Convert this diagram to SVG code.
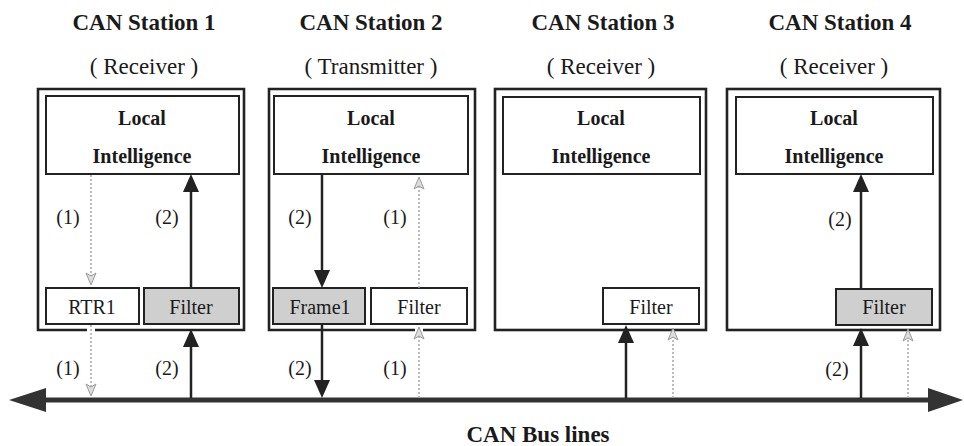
<svg xmlns="http://www.w3.org/2000/svg" width="964" height="446" viewBox="0 0 964 446" font-family="'Liberation Serif', Tinos, 'Times New Roman', Times, serif">
<style>
text{font-family:'Liberation Serif',Tinos,'Times New Roman',Times,serif;fill:#1a1a1a;text-anchor:middle}
.title{font-size:23px;font-weight:bold}
.sub{font-size:23px}
.bold{font-size:20px;font-weight:bold}
.lbl{font-size:20px}
.outer{fill:none;stroke:#222;stroke-width:2.6}
.box{fill:#fff;stroke:#222;stroke-width:2}
.shade{fill:#cfcfcf;stroke:#222;stroke-width:2}
.solid{stroke:#222;stroke-width:2.5;fill:none}
.dash{stroke:#a8a8a8;stroke-width:1.5;stroke-dasharray:2 2;fill:none}
.bus{stroke:#333;stroke-width:5;fill:none}
.bushead{fill:#333}
</style>
<defs>
<marker id="ah" markerUnits="userSpaceOnUse" markerWidth="18" markerHeight="16" viewBox="0 0 18 16" refX="12" refY="8" orient="auto">
<path d="M0,0 L18,8 L0,16 z" fill="#222"/>
</marker>
<marker id="dh" markerUnits="userSpaceOnUse" markerWidth="14" markerHeight="12" viewBox="0 0 14 12" refX="9" refY="6" orient="auto">
<path d="M1,1 L13,6 L1,11 L4,6 z" fill="#ddd" stroke="#9a9a9a" stroke-width="1"/>
</marker>
</defs>

<g id="station1">
<text class="title" x="144" y="30">CAN Station 1</text>
<text class="sub" x="144" y="74">( Receiver )</text>
<path class="outer" d="M95,330 H244 V89 H38 V330 H87"/>
<g id="s1-local"><rect class="box" x="46" y="96" width="193" height="78"/>
<text class="bold" x="142" y="125">Local</text>
<text class="bold" x="142" y="163">Intelligence</text></g>
<g id="s1-rtr1"><rect class="box" x="46" y="288" width="93" height="36"/>
<text class="lbl" x="92" y="314">RTR1</text></g>
<g id="s1-filter"><rect class="shade" x="144" y="288" width="95" height="36"/>
<text class="lbl" x="191" y="314">Filter</text></g>
</g>

<g id="station2">
<text class="title" x="371" y="30">CAN Station 2</text>
<text class="sub" x="371" y="74">( Transmitter )</text>
<path class="outer" d="M423,330 H475 V89 H269 V330 H415"/>
<g id="s2-local"><rect class="box" x="274" y="96" width="194" height="78"/>
<text class="bold" x="371" y="125">Local</text>
<text class="bold" x="371" y="163">Intelligence</text></g>
<g id="s2-frame1"><rect class="shade" x="273" y="288" width="92" height="36"/>
<text class="lbl" x="320" y="314">Frame1</text></g>
<g id="s2-filter"><rect class="box" x="371" y="288" width="96" height="36"/>
<text class="lbl" x="419" y="314">Filter</text></g>
</g>

<g id="station3">
<text class="title" x="603" y="30">CAN Station 3</text>
<text class="sub" x="601" y="74">( Receiver )</text>
<rect class="outer" x="495" y="89" width="211" height="241"/>
<g id="s3-local"><rect class="box" x="503" y="97" width="197" height="77"/>
<text class="bold" x="601" y="125">Local</text>
<text class="bold" x="601" y="163">Intelligence</text></g>
<g id="s3-filter"><rect class="box" x="603" y="288" width="96" height="36"/>
<text class="lbl" x="651" y="314">Filter</text></g>
</g>

<g id="station4">
<text class="title" x="840" y="30">CAN Station 4</text>
<text class="sub" x="834" y="74">( Receiver )</text>
<rect class="outer" x="727" y="89" width="213" height="241"/>
<g id="s4-local"><rect class="box" x="736" y="97" width="197" height="77"/>
<text class="bold" x="834" y="125">Local</text>
<text class="bold" x="834" y="163">Intelligence</text></g>
<g id="s4-filter"><rect class="shade" x="836" y="289" width="96" height="36"/>
<text class="lbl" x="884" y="314">Filter</text></g>
</g>

<g id="connectors">
<line class="bus" x1="40" y1="400" x2="932" y2="400"/>
<path class="bushead" d="M9,400 L46,388 L46,412 z"/>
<path class="bushead" d="M963,400 L928,388 L928,412 z"/>
<line class="dash" x1="91" y1="175" x2="91" y2="281" marker-end="url(#dh)"/>
<line class="dash" x1="91" y1="325" x2="91" y2="392" marker-end="url(#dh)"/>
<line class="solid" x1="191" y1="288" x2="191" y2="180" marker-end="url(#ah)"/>
<line class="solid" x1="191" y1="398" x2="191" y2="335" marker-end="url(#ah)"/>
<line class="solid" x1="322" y1="174" x2="322" y2="282" marker-end="url(#ah)"/>
<line class="solid" x1="322" y1="324" x2="322" y2="392" marker-end="url(#ah)"/>
<line class="dash" x1="419" y1="398" x2="419" y2="331" marker-end="url(#dh)"/>
<line class="dash" x1="419" y1="288" x2="419" y2="181" marker-end="url(#dh)"/>
<line class="solid" x1="626" y1="398" x2="626" y2="331" marker-end="url(#ah)"/>
<line class="dash" x1="673" y1="398" x2="673" y2="332" marker-end="url(#dh)"/>
<line class="solid" x1="861" y1="289" x2="861" y2="180" marker-end="url(#ah)"/>
<line class="solid" x1="861" y1="398" x2="861" y2="334" marker-end="url(#ah)"/>
<line class="dash" x1="908" y1="398" x2="908" y2="333" marker-end="url(#dh)"/>
</g>

<g id="labels">
<text class="lbl" x="68" y="224">(1)</text>
<text class="lbl" x="167" y="224">(2)</text>
<text class="lbl" x="68" y="375">(1)</text>
<text class="lbl" x="167" y="375">(2)</text>
<text class="lbl" x="300" y="224">(2)</text>
<text class="lbl" x="395" y="224">(1)</text>
<text class="lbl" x="300" y="375">(2)</text>
<text class="lbl" x="395" y="375">(1)</text>
<text class="lbl" x="840" y="226">(2)</text>
<text class="lbl" x="837" y="376">(2)</text>
<text class="title" x="538" y="442">CAN Bus lines</text>
</g>
</svg>
